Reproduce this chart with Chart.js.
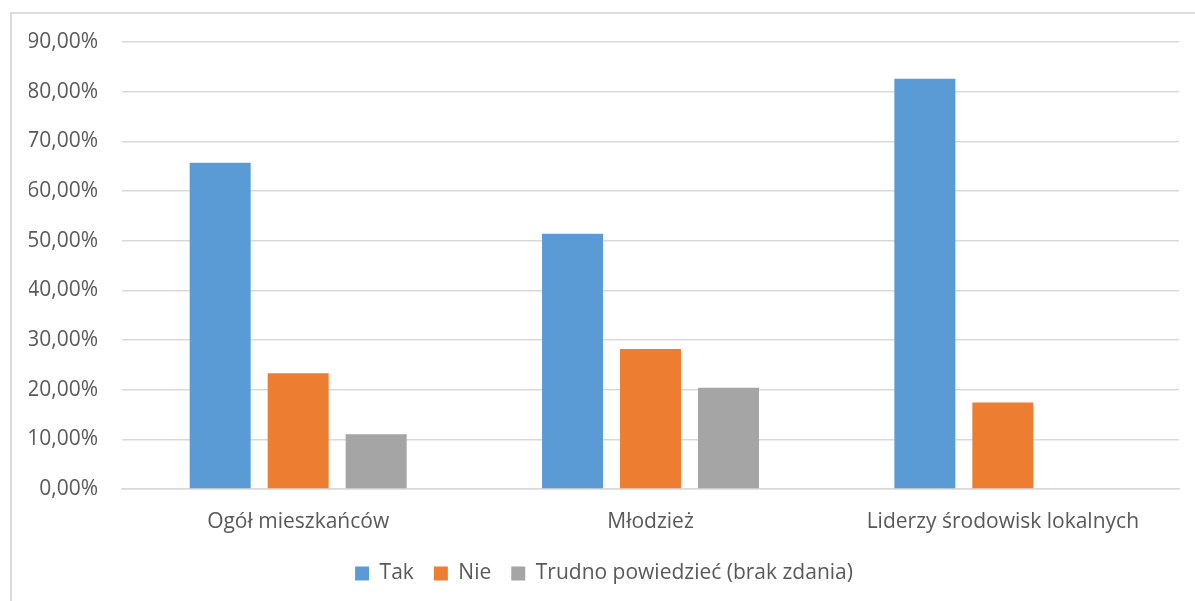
<!DOCTYPE html>
<html>
<head>
<meta charset="utf-8">
<script src="https://cdn.jsdelivr.net/npm/chart.js@4/dist/chart.umd.min.js"></script>
<style>
  html, body { margin: 0; padding: 0; background: #fff; overflow: hidden; }
  #wrap { position: absolute; left: 0; top: 0; width: 1195px; height: 620px; }
  #frame { position: absolute; left: 10px; top: 12px; width: 1200px; height: 700px;
           border: 2px solid #dcdcdc; box-sizing: border-box; pointer-events: none; }
</style>
</head>
<body>
<div id="wrap"><canvas id="c"></canvas></div>
<div id="frame"></div>
<script>
const categories = ['Ogół mieszkańców', 'Młodzież', 'Liderzy środowisk lokalnych'];
const seriesNames = ['Tak', 'Nie', 'Trudno powiedzieć (brak zdania)'];
const takValues = [65.7, 51.4, 82.6];
const nieValues = [23.3, 28.2, 17.4];
const trudnoValues = [11.0, 20.4, 0];
const yTickLabels = ['0,00%', '10,00%', '20,00%', '30,00%', '40,00%', '50,00%', '60,00%', '70,00%', '80,00%', '90,00%'];
const colors = ['#5B9BD5', '#ED7D31', '#A5A5A5'];

const FONT = '"Open Sans", Lato, sans-serif';
const TXT = '#595959';
const GRID = '#d9d9d9';

new Chart(document.getElementById('c'), {
  type: 'bar',
  data: {
    labels: categories,
    datasets: [takValues, nieValues, trudnoValues].map((d, i) => ({
      label: seriesNames[i],
      data: d,
      backgroundColor: colors[i],
      borderWidth: 0,
      categoryPercentage: 0.664,
      barPercentage: 0.782
    }))
  },
  options: {
    responsive: true,
    maintainAspectRatio: false,
    animation: false,
    layout: { padding: { left: 29, right: 16, top: 42, bottom: 26 } },
    plugins: {
      tooltip: { enabled: false },
      legend: {
        position: 'bottom',
        labels: {
          color: TXT,
          font: { family: FONT, size: 21 },
          boxWidth: 14,
          boxHeight: 14,
          padding: 20
        }
      }
    },
    scales: {
      x: {
        grid: { display: false, drawTicks: false },
        border: { display: true, color: GRID, width: 1.5 },
        ticks: { color: TXT, font: { family: FONT, size: 21 }, padding: 20, maxRotation: 0 },
        afterFit: s => { s.height = 54; }
      },
      y: {
        min: 0,
        max: 90,
        grid: { color: GRID, lineWidth: 1.5, drawTicks: false },
        border: { display: false },
        ticks: {
          stepSize: 10,
          color: TXT,
          font: { family: FONT, size: 21 },
          padding: 24,
          callback: (v, i) => yTickLabels[i]
        },
        afterFit: s => { s.width = 93; }
      }
    }
  }
});
</script>
</body>
</html>
